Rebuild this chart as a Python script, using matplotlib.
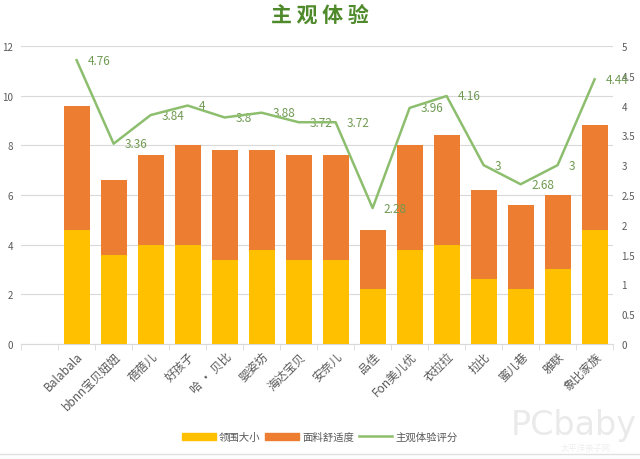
import matplotlib.pyplot as plt
import numpy as np
from matplotlib.ticker import FuncFormatter
from matplotlib.lines import Line2D

plt.rcParams['font.family'] = ['Noto Sans CJK SC', 'DejaVu Sans']

brands = ['Balabala', 'bbnn宝贝妞妞', '蓓蓓儿', '好孩子', '哈 · 贝比', '婴姿坊', '海达宝贝',
          '安奈儿', '品佳', 'Fon美儿优', '衣拉拉', '拉比', '蜜儿巷', '雅联', '象比家族']
collar = [4.6, 3.6, 4.0, 4.0, 3.4, 3.8, 3.4, 3.4, 2.2, 3.8, 4.0, 2.6, 2.2, 3.0, 4.6]
fabric = [5.0, 3.0, 3.6, 4.0, 4.4, 4.0, 4.2, 4.2, 2.4, 4.2, 4.4, 3.6, 3.4, 3.0, 4.2]
score = [4.76, 3.36, 3.84, 4, 3.8, 3.88, 3.72, 3.72, 2.28, 3.96, 4.16, 3, 2.68, 3, 4.44]

yellow = '#FFC000'
orange = '#ED7D31'
green = '#8DBE6E'
grey = '#595959'

fig = plt.figure(figsize=(6.4, 4.6), dpi=100)
ax = fig.add_axes([0.033, 0.25, 0.925, 0.648])

# first category slot is left empty in the original chart
x = np.arange(1, len(brands) + 1)
ax.bar(x, collar, width=0.7, color=yellow, label='领围大小', zorder=3)
ax.bar(x, fabric, width=0.7, bottom=collar, color=orange, label='面料舒适度', zorder=3)

ax.set_xlim(-0.5, len(brands) + 0.5)
ax.set_ylim(0, 12)
ax.set_yticks(range(0, 13, 2))
ax.grid(axis='y', color='#D9D9D9', linewidth=0.8, zorder=0)
for s in ['left', 'right', 'top']:
    ax.spines[s].set_visible(False)
ax.spines['bottom'].set_color('#D9D9D9')
ax.tick_params(axis='y', length=0, labelsize=7, labelcolor=grey, pad=6)
ax.set_xticks(x)
ax.set_xticklabels(brands, rotation=45, ha='right', rotation_mode='anchor',
                   fontsize=8.5, color=grey)
ax.tick_params(axis='x', length=0, pad=4)
# tick marks between categories
ax.set_xticks(np.arange(-0.5, len(brands) + 1, 1), minor=True)
ax.tick_params(axis='x', which='minor', length=4, color='#D9D9D9')

ax2 = ax.twinx()
ax2.plot(x, score, color=green, linewidth=1.8, zorder=4)
ax2.set_ylim(0, 5)
ax2.set_yticks(np.arange(0, 5.01, 0.5))
ax2.yaxis.set_major_formatter(FuncFormatter(lambda v, p: '%g' % v))
ax2.tick_params(axis='y', length=0, labelsize=7, labelcolor=grey, pad=6)
for s in ax2.spines.values():
    s.set_visible(False)
for xi, v in zip(x, score):
    ax2.annotate('%g' % v, (xi, v), xytext=(8, 0), textcoords='offset points',
                 ha='left', va='center', fontsize=8.5, color='#6F9A52')

fig.text(0.5, 0.968, '主 观 体 验', ha='center', va='center', fontsize=15,
         fontweight='bold', color='#4E8A2A')

handles = [plt.Rectangle((0, 0), 1, 1, color=yellow),
           plt.Rectangle((0, 0), 1, 1, color=orange),
           Line2D([0], [0], color=green, linewidth=1.8)]
fig.legend(handles, ['领围大小', '面料舒适度', '主观体验评分'], loc='center',
           bbox_to_anchor=(0.5, 0.048), ncol=3, frameon=False, fontsize=7.5,
           handlelength=3.2, handleheight=0.7, columnspacing=0.5, handletextpad=0.3,
           labelcolor=grey)

# faint watermark
fig.text(0.995, 0.075, 'PCbaby', ha='right', va='center', fontsize=24,
         color='#EAEAEA', family='DejaVu Sans', zorder=0)
fig.text(0.915, 0.025, '太平洋亲子网', ha='center', va='center', fontsize=6,
         color='#EEEEEE', zorder=0)
fig.add_artist(Line2D([0, 1], [0.011, 0.011], color='#E0E0E0', linewidth=1))

fig.savefig('out.png', dpi=100)
